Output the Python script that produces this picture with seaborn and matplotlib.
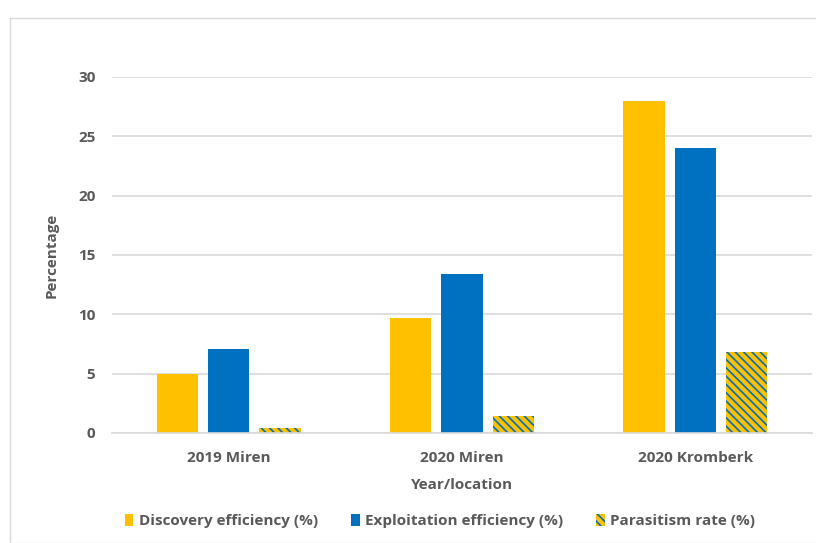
import matplotlib
matplotlib.use("Agg")
import matplotlib.pyplot as plt
import matplotlib.patches as mpatches
import seaborn as sns
import pandas as pd

categories = ["2019 Miren", "2020 Miren", "2020 Kromberk"]
series_names = ["Discovery efficiency (%)", "Exploitation efficiency (%)", "Parasitism rate (%)"]
discovery = [5.0, 9.7, 28.0]
exploitation = [7.1, 13.4, 24.0]
parasitism = [0.4, 1.4, 6.8]
yticks = [0, 5, 10, 15, 20, 25, 30]

YELLOW = "#FFC000"
BLUE = "#0070C0"
TXT = "#595959"
HATCH = "\\" * 4

rows = []
for name, vals in zip(series_names, [discovery, exploitation, parasitism]):
    for c, v in zip(categories, vals):
        rows.append({"cat": c, "series": name, "val": v})
df = pd.DataFrame(rows)

sns.set_theme(style="white")
plt.rcParams["font.family"] = ["Open Sans", "DejaVu Sans"]
plt.rcParams["hatch.linewidth"] = 1.2

fig = plt.figure(figsize=(8.16, 5.43), dpi=100)
ax = fig.add_axes([112/816, 1-433/543, 700/816, (433-77)/543])

sns.barplot(data=df, x="cat", y="val", hue="series", order=categories,
            hue_order=series_names, palette=[YELLOW, BLUE, YELLOW],
            width=0.66, gap=0.2, ax=ax, legend=False, saturation=1)

# hatch the parasitism bars
for bar in ax.containers[2]:
    bar.set_facecolor(YELLOW)
    bar.set_edgecolor(BLUE)
    bar.set_hatch(HATCH)
    bar.set_linewidth(0)
for cont in ax.containers[:2]:
    for bar in cont:
        bar.set_linewidth(0)

ax.set_ylim(0, 30)
ax.set_yticks(yticks)
ax.set_yticklabels([str(t) for t in yticks])
ax.yaxis.grid(True, color="#D9D9D9", linewidth=1.2)
ax.set_axisbelow(True)
for s in ["top", "right", "left"]:
    ax.spines[s].set_visible(False)
ax.spines["bottom"].set_color("#D9D9D9")
ax.spines["bottom"].set_linewidth(1.2)
ax.tick_params(axis="both", length=0, labelsize=11, labelcolor=TXT)
ax.tick_params(axis="y", pad=12)
ax.tick_params(axis="x", pad=13)
for lab in ax.get_xticklabels() + ax.get_yticklabels():
    lab.set_fontweight("bold")

ax.set_xlabel("Year/location", fontsize=11, fontweight="bold", color=TXT, labelpad=9)
ax.set_ylabel("Percentage", fontsize=11, fontweight="bold", color=TXT, labelpad=14)

handles = [
    mpatches.Patch(facecolor=YELLOW, edgecolor=YELLOW, linewidth=0, label=series_names[0]),
    mpatches.Patch(facecolor=BLUE, edgecolor=BLUE, linewidth=0, label=series_names[1]),
    mpatches.Patch(facecolor=YELLOW, edgecolor=BLUE, linewidth=0, hatch=HATCH, label=series_names[2]),
]
leg = fig.legend(handles=handles, loc="center", bbox_to_anchor=(440/816, 1-521/543),
                 ncol=3, frameon=False, handlelength=0.55, handleheight=0.8,
                 handletextpad=0.33, columnspacing=2.2,
                 prop={"size": 11, "weight": "bold"})
for t in leg.get_texts():
    t.set_color(TXT)

# outer frame
fig.patches.append(mpatches.Rectangle((10/816, 0), 1.2, 1-18/543, transform=fig.transFigure,
                                      fill=False, edgecolor="#D9D9D9", linewidth=1))

fig.savefig("out.png", dpi=100)
